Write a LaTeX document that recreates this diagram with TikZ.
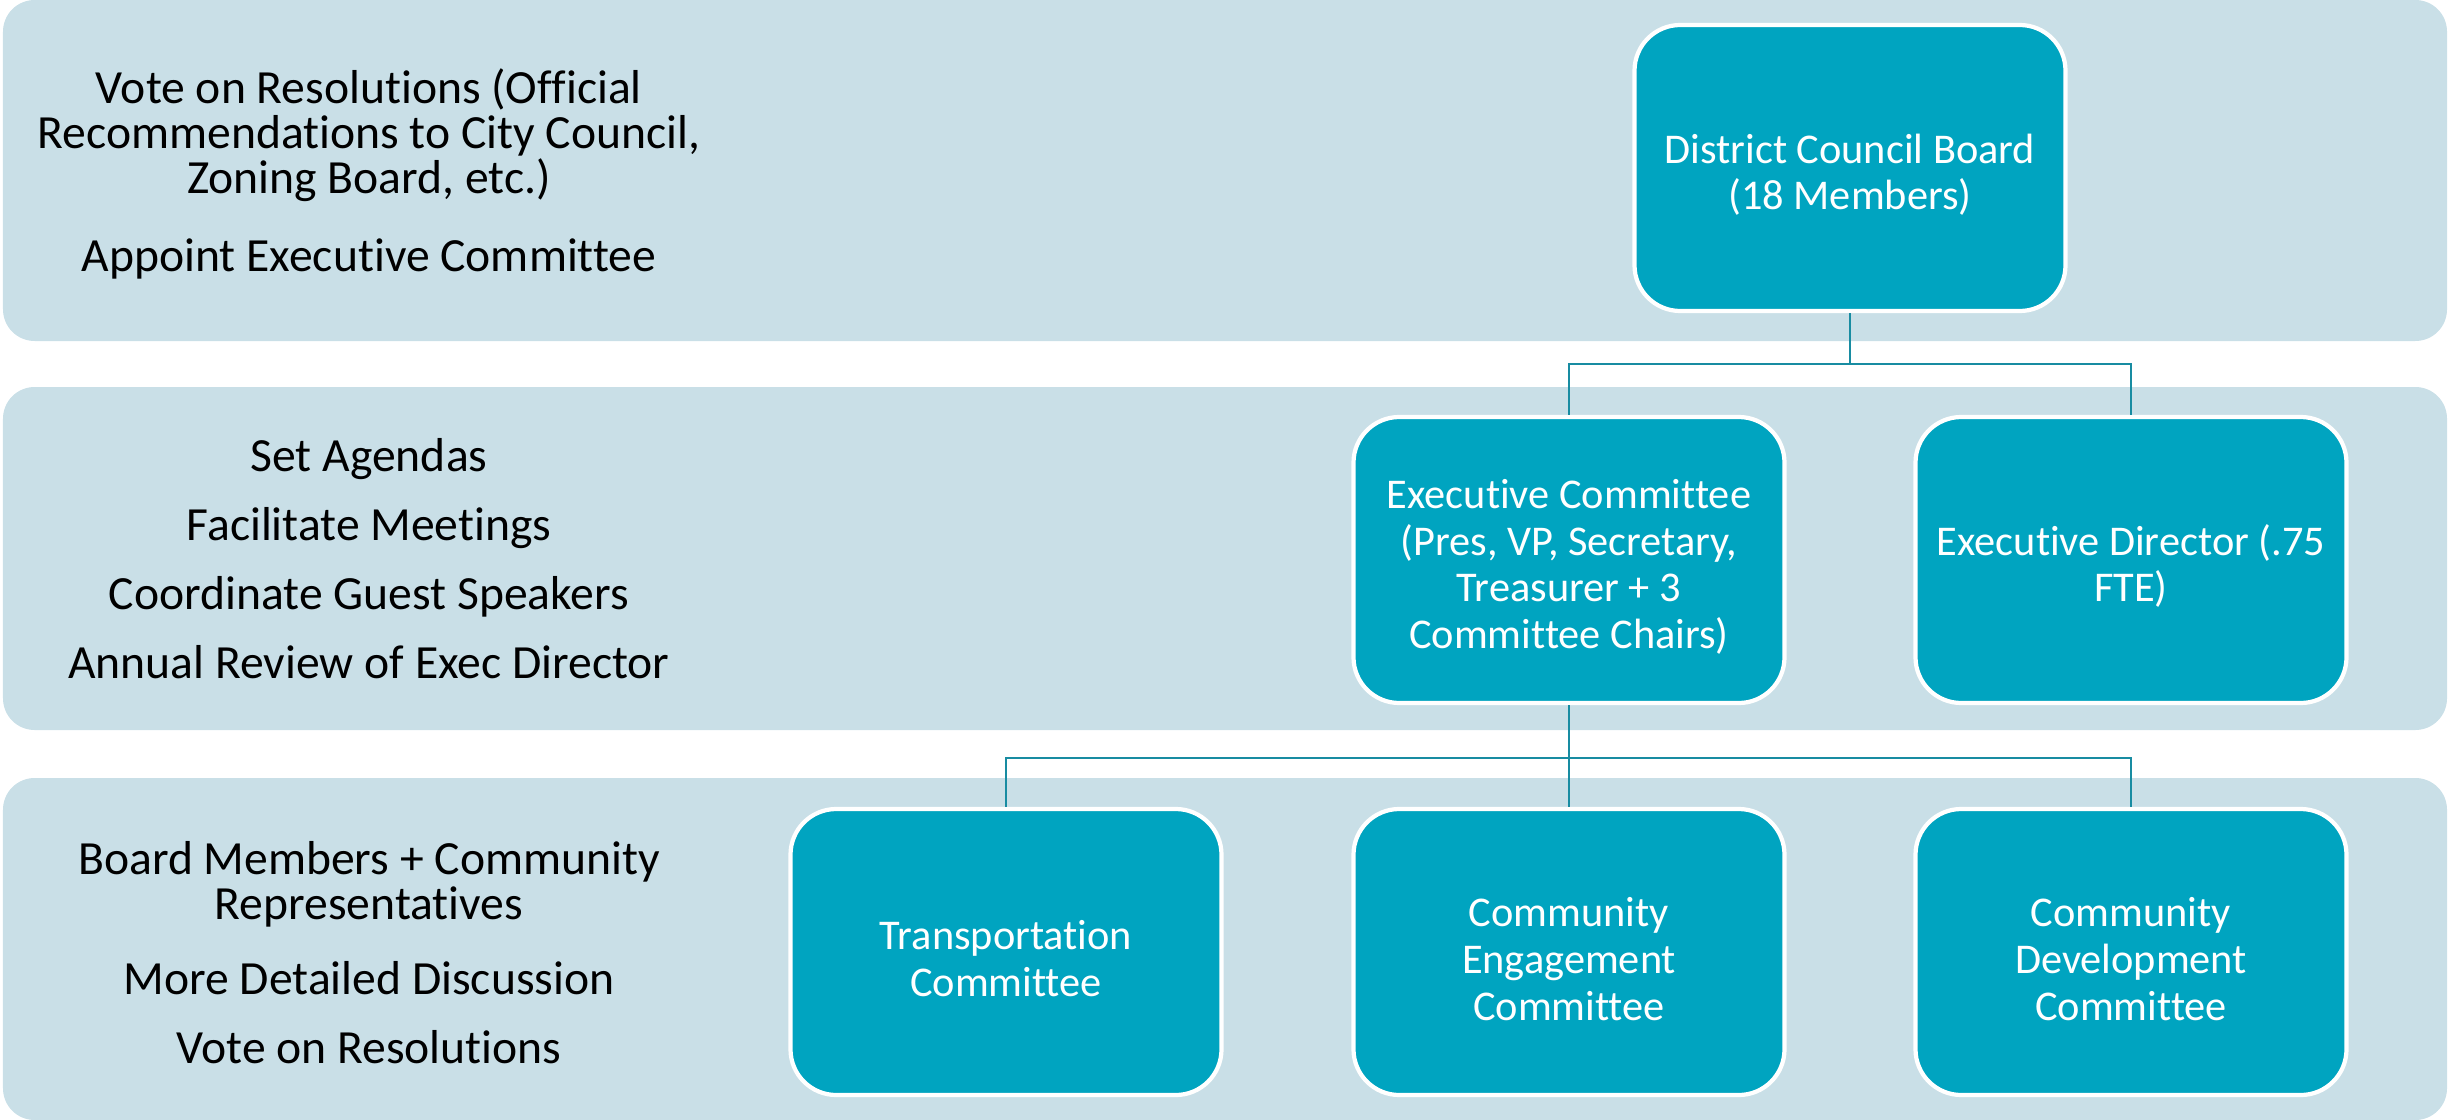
\documentclass[tikz,border=0pt]{standalone}
\usepackage{fontspec}
\setmainfont{Carlito}[Ligatures={NoCommon,NoRare}]
\usepackage{xcolor}
\usetikzlibrary{positioning, arrows.meta}

\definecolor{bandblue}{RGB}{201,223,231}
\definecolor{boxteal}{RGB}{0,164,192}
\definecolor{linkteal}{RGB}{24,140,162}

\newcommand{\boxstrut}{\rule{0pt}{0.43cm}}

\tikzset{
  band/.style={fill=bandblue, rounded corners=9pt},
  unit/.style={draw=white, line width=1.2pt, fill=boxteal, rounded corners=13pt,
    minimum width=4.31cm, minimum height=2.86cm, inner sep=0pt,
    text=white, align=center, font=\fontsize{12.05}{13.3}\selectfont},
  duty/.style={align=center, text=black, font=\fontsize{13.55}{12.8}\selectfont},
  link/.style={draw=linkteal, line width=0.8pt}
}

\begin{document}
\begin{tikzpicture}
\useasboundingbox (0,0) rectangle (24.5,-11.2);

% bands
\fill[band] (0.03,0) rectangle (24.47,-3.41);
\fill[band] (0.03,-3.87) rectangle (24.47,-7.30);
\fill[band] (0.03,-7.78) rectangle (24.47,-11.2);

% left column texts
\node[duty] (dutyboard) at (3.69,-1.74) {Vote on Resolutions (Official\\Recommendations to City Council,\\Zoning Board, etc.)\\[0.33cm]Appoint Executive Committee};
\node[duty] (dutyexec) at (3.69,-5.59) {Set Agendas\\[0.24cm]Facilitate Meetings\\[0.24cm]Coordinate Guest Speakers\\[0.24cm]Annual Review of Exec Director};
\node[duty] (dutycomm) at (3.69,-9.53) {Board Members + Community\\Representatives\\[0.30cm]More Detailed Discussion\\[0.24cm]Vote on Resolutions};

% boxes
\node[unit] (board) at (18.50,-1.68) {\boxstrut District Council Board\\(18 Members)};
\node[unit] (exec) at (15.69,-5.60) {\boxstrut Executive Committee\\(Pres, VP, Secretary,\\Treasurer + 3\\Committee Chairs)};
\node[unit] (director) at (21.31,-5.60) {\boxstrut Executive Director (.75\\FTE)};
\node[unit] (transport) at (10.06,-9.52) {\boxstrut Transportation\\Committee};
\node[unit] (engage) at (15.69,-9.52) {\boxstrut Community\\Engagement\\Committee};
\node[unit] (develop) at (21.31,-9.52) {\boxstrut Community\\Development\\Committee};

% connectors
\coordinate (hubtop) at (board.south |- 0,-3.64);
\coordinate (hubmid) at (exec.south |- 0,-7.58);
\draw[link] (board.south) -- (hubtop);
\draw[link] (exec.north) |- (hubtop) -| (director.north);
\draw[link] (exec.south) -- (hubmid);
\draw[link] (transport.north) |- (hubmid) -| (develop.north);
\draw[link] (hubmid) -- (engage.north);
\end{tikzpicture}
\end{document}
